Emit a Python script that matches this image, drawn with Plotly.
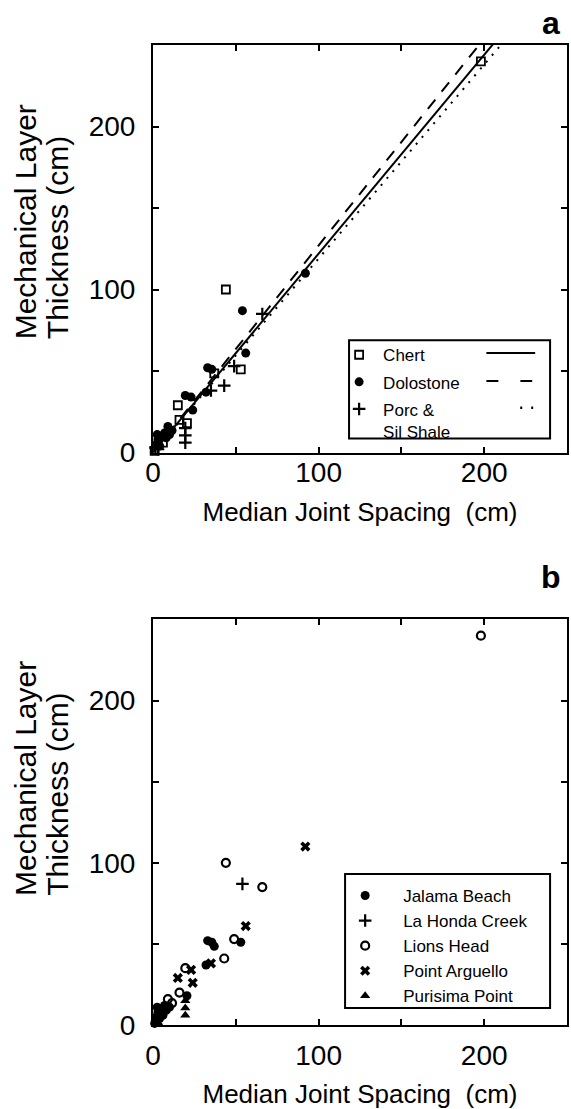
import plotly.graph_objects as go

# ---------------- data ----------------
spacing = [198, 92, 44, 54, 66, 56, 49, 53, 33, 35.5, 37, 43, 32, 35, 19.5, 23, 15, 24,
           16, 20.5, 19.5, 19.5, 19.5, 9, 11.5, 7, 5, 3, 6, 2, 1.5, 3, 1, 4, 8, 10, 2.5]
thickness = [240, 110, 100, 87, 85, 61, 53, 51, 52, 51, 48.5, 41, 37, 38, 35, 34, 29, 26,
             20, 18, 15, 10.5, 6, 16, 13.5, 12, 10, 8, 6, 5, 3, 2, 1, 4, 9, 11, 11]
lithology = ["C", "D", "C", "D", "P", "D", "P", "C", "D", "D", "C", "P", "D", "P", "D", "D", "C", "D",
             "C", "C", "P", "P", "P", "D", "D", "D", "D", "D", "C", "D", "P", "P", "C", "D", "D", "D", "D"]
locality = ["LH", "PA", "LH", "LHC", "LH", "PA", "LH", "JB", "JB", "JB", "JB", "LH", "JB", "PA", "LH", "PA", "PA", "PA",
            "LH", "JB", "PP", "PP", "PP", "LH", "LH", "JB", "JB", "JB", "JB", "JB", "JB", "PA", "JB", "JB", "JB", "JB", "JB"]

lith_codes = ["C", "D", "P"]
lith_labels = ["Chert", "Dolostone", "Porc &<br>Sil Shale"]
fit_slopes = [1.22, 1.27, 1.19]          # regression lines through origin
fit_x = [0, 250]

loc_codes = ["JB", "LHC", "LH", "PA", "PP"]
loc_labels = ["Jalama Beach", "La Honda Creek", "Lions Head", "Point Arguello", "Purisima Point"]

x_ticks = [0, 50, 100, 150, 200]
x_ticktext = ["0", "", "100", "", "200"]
y_ticks = [0, 50, 100, 150, 200]
y_ticktext = ["0", "", "100", "", "200"]

# ---------------- styles ----------------
FONT = "Liberation Sans, Arial, Helvetica, sans-serif"
W, H = 571, 1109
ML, MR, MT, MB = 153, 2, 45, 78
PW, PH = W - ML - MR, H - MT - MB


def px(x):
    return (x - ML) / PW


def py(y):
    return (H - MB - y) / PH


lith_marker = {
    "C": dict(symbol="square-open", size=8, color="black", line=dict(width=1.8, color="black")),
    "D": dict(symbol="circle", size=9, color="black", line=dict(width=0)),
    "P": dict(symbol="cross-thin", size=9, color="black", line=dict(width=2.2, color="black")),
}
lith_dash = {"C": "solid", "D": "12px,10px", "P": "2px,7px"}

loc_marker = {
    "JB": dict(symbol="circle", size=9, color="black", line=dict(width=0)),
    "LHC": dict(symbol="cross-thin", size=9, color="black", line=dict(width=2.2, color="black")),
    "LH": dict(symbol="circle-open", size=8, color="black", line=dict(width=2.2, color="black")),
    "PA": dict(symbol="x", size=9, color="black", line=dict(width=0)),
    "PP": dict(symbol="triangle-up", size=9, color="black", line=dict(width=0)),
}

fig = go.Figure()

# ---- panel a ----
for code, label, slope in zip(lith_codes, lith_labels, fit_slopes):
    xs = [x for x, l in zip(spacing, lithology) if l == code]
    ys = [y for y, l in zip(thickness, lithology) if l == code]
    fig.add_trace(go.Scatter(x=xs, y=ys, mode="markers", name=label, marker=lith_marker[code],
                             legend="legend", legendgroup=code, xaxis="x", yaxis="y", cliponaxis=False))
    fig.add_trace(go.Scatter(x=fit_x, y=[slope * v for v in fit_x], mode="lines", showlegend=False,
                             line=dict(color="black", width=2, dash=lith_dash[code]),
                             xaxis="x", yaxis="y"))

# ---- panel b ----
for code, label in zip(loc_codes, loc_labels):
    xs = [x for x, l in zip(spacing, locality) if l == code]
    ys = [y for y, l in zip(thickness, locality) if l == code]
    fig.add_trace(go.Scatter(x=xs, y=ys, mode="markers", name=label, marker=loc_marker[code],
                             legend="legend2", legendgroup=code, xaxis="x2", yaxis="y2", cliponaxis=False))

axis_common = dict(range=[0, 250], showline=True, linewidth=2, linecolor="black", mirror="ticks",
                   ticks="inside", ticklen=6, tickwidth=1.5, tickcolor="black", showgrid=False,
                   zeroline=False, tickfont=dict(family=FONT, size=28, color="black"))

title_font = dict(family=FONT, size=26, color="black")
xtitle = "Median Joint Spacing\u00a0 (cm)"

fig.update_layout(
    width=W, height=H, margin=dict(l=ML, r=MR, t=MT, b=MB),
    paper_bgcolor="white", plot_bgcolor="white",
    font=dict(family=FONT, color="black"),
    xaxis=dict(axis_common, domain=[0, 1], anchor="y", tickvals=x_ticks, ticktext=x_ticktext,
               ticklabelstandoff=-6,
               title=dict(text=xtitle, font=title_font, standoff=16)),
    yaxis=dict(axis_common, domain=[py(455), 1], anchor="x", tickvals=y_ticks, ticktext=y_ticktext,
               ticklabelstandoff=10),
    xaxis2=dict(axis_common, domain=[0, 1], anchor="y2", tickvals=x_ticks, ticktext=x_ticktext,
                ticklabelstandoff=4,
                title=dict(text=xtitle, font=title_font, standoff=18)),
    yaxis2=dict(axis_common, domain=[0, py(623)], anchor="x2", tickvals=y_ticks, ticktext=y_ticktext,
                ticklabelstandoff=10),
    legend=dict(x=px(336), y=py(339), xanchor="left", yanchor="top", bgcolor="rgba(0,0,0,0)",
                borderwidth=0, font=dict(family=FONT, size=17, color="black"), itemwidth=38,
                traceorder="grouped", tracegroupgap=2, valign="top"),
    legend2=dict(x=px(328), y=py(883), xanchor="left", yanchor="top", bgcolor="rgba(0,0,0,0)",
                 borderwidth=0, font=dict(family=FONT, size=17, color="black"), itemwidth=66,
                 traceorder="grouped", tracegroupgap=0, valign="middle"),
)

# legend boxes
shapes = [
    dict(type="rect", xref="paper", yref="paper", x0=px(350), x1=px(552), y0=py(441), y1=py(342),
         line=dict(color="black", width=2)),
    dict(type="rect", xref="paper", yref="paper", x0=px(346), x1=px(552), y0=py(1014), y1=py(879),
         line=dict(color="black", width=2)),
    # line samples for panel a legend
    dict(type="line", xref="paper", yref="paper", x0=px(488), x1=px(537), y0=py(355), y1=py(355),
         line=dict(color="black", width=2, dash="solid")),
    dict(type="line", xref="paper", yref="paper", x0=px(488), x1=px(534), y0=py(383), y1=py(383),
         line=dict(color="black", width=2, dash="12px,22px")),
    dict(type="line", xref="paper", yref="paper", x0=px(522), x1=px(535), y0=py(410), y1=py(410),
         line=dict(color="black", width=2.5, dash="2px,9px")),
]
fig.update_layout(shapes=shapes)

ytitle_font = dict(family=FONT, size=30, color="black")
annotations = [
    dict(text="<b>a</b>", x=px(553), y=py(23), xref="paper", yref="paper", showarrow=False,
         font=dict(family=FONT, size=32, color="black"), xanchor="center", yanchor="middle"),
    dict(text="<b>b</b>", x=px(553), y=py(580), xref="paper", yref="paper", showarrow=False,
         font=dict(family=FONT, size=32, color="black"), xanchor="center", yanchor="middle"),
]
for bottom in (343, 903):
    annotations.append(dict(text="Mechanical Layer", x=px(25), y=py(bottom), xref="paper", yref="paper",
                            showarrow=False, textangle=-90, font=ytitle_font,
                            xanchor="center", yanchor="bottom"))
    annotations.append(dict(text="Thickness (cm)", x=px(57), y=py(bottom), xref="paper", yref="paper",
                            showarrow=False, textangle=-90, font=ytitle_font,
                            xanchor="center", yanchor="bottom"))
fig.update_layout(annotations=annotations)

fig.write_html("out.html", config={"displayModeBar": False},
               post_script="document.body.style.margin='0';document.body.style.padding='0';")
